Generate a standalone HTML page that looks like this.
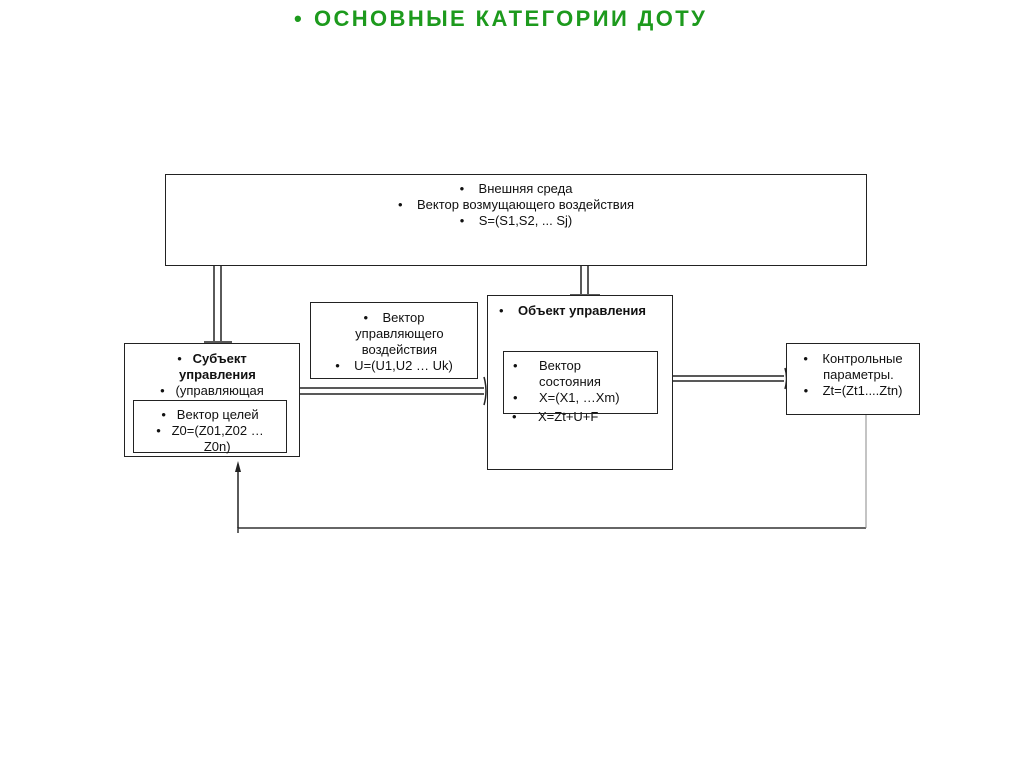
<!DOCTYPE html>
<html><head><meta charset="utf-8"><style>
body{margin:0;width:1024px;height:768px;background:#fff;position:relative;font-family:"Liberation Sans",sans-serif;color:#111;overflow:hidden}
.b{position:absolute;border:1.5px solid #222;background:#fff;box-sizing:border-box;font-size:13px;line-height:16px}
.t{position:absolute;font-size:13px;line-height:16px;white-space:nowrap}
.i{display:inline-block;width:26px}
</style></head><body>
<div class="t" style="left:294px;top:6px;font-size:22px;line-height:26px;color:#1d9a1d;font-weight:bold">•&nbsp; <span style="letter-spacing:2.4px">ОСНОВНЫЕ КАТЕГОРИИ ДОТУ</span></div>
<svg width="1024" height="768" style="position:absolute;left:0;top:0">
<g stroke="#222" stroke-width="1.5" fill="none">
<line x1="214" y1="264" x2="214" y2="341"/><line x1="221" y1="264" x2="221" y2="341"/>
<line x1="204" y1="342" x2="232" y2="342"/>
<line x1="581" y1="264" x2="581" y2="294"/><line x1="588" y1="264" x2="588" y2="294"/>
<line x1="570" y1="295" x2="600" y2="295"/>
<line x1="299" y1="388" x2="484" y2="388"/><line x1="299" y1="394" x2="484" y2="394"/>
<path d="M484 377 Q488 391 484 405"/>
<line x1="672" y1="376" x2="784" y2="376"/><line x1="672" y1="381" x2="784" y2="381"/>
<path d="M785 368 Q788 378 785 389"/>
<polyline points="238,533 238,528 866,528" stroke="#333"/>
<line x1="238" y1="528" x2="238" y2="470"/>
<line x1="866" y1="414" x2="866" y2="528" stroke="#888" stroke-width="1"/>
</g>
<path d="M238 461 L235 472 L241 472 Z" fill="#222"/>
</svg>
<div class="b" style="left:165px;top:174px;width:702px;height:92px;text-align:center;padding-top:6px">
•&nbsp;&nbsp;&nbsp; Внешняя среда<br>•&nbsp;&nbsp;&nbsp; Вектор возмущающего воздействия<br>•&nbsp;&nbsp;&nbsp; S=(S1,S2, ... Sj)</div>
<div class="b" style="left:124px;top:343px;width:176px;height:114px;text-align:center;padding-top:7px">
•&nbsp;&nbsp; <b>Субъект<br>&nbsp;&nbsp;&nbsp;управления</b><br>•&nbsp;&nbsp; (управляющая</div>
<div class="b" style="left:133px;top:400px;width:154px;height:53px;text-align:center;padding-top:6px;overflow:visible">
•&nbsp;&nbsp; Вектор целей<br>•&nbsp;&nbsp; Z0=(Z01,Z02 …<br>&nbsp;&nbsp;&nbsp;&nbsp;Z0n)</div>
<div class="b" style="left:310px;top:302px;width:168px;height:77px;text-align:center;padding-top:7px">
•&nbsp;&nbsp;&nbsp; Вектор<br>&nbsp;&nbsp;&nbsp;управляющего<br>&nbsp;&nbsp;&nbsp;воздействия<br>•&nbsp;&nbsp;&nbsp; U=(U1,U2 … Uk)</div>
<div class="b" style="left:487px;top:295px;width:186px;height:175px;padding:7px 0 0 11px">•&nbsp;&nbsp;&nbsp; <b>Объект управления</b></div>
<div class="t" style="left:512px;top:409px"><span class="i">•</span>X=Zt+U+F</div>
<div class="b" style="left:503px;top:351px;width:155px;height:63px;padding:6px 0 0 9px;background:transparent;text-align:left">
<span class="i">•</span>Вектор<br><span class="i"></span>состояния<br><span class="i">•</span>X=(X1, …Xm)</div>
<div class="b" style="left:786px;top:343px;width:134px;height:72px;text-align:center;padding-top:7px">
•&nbsp;&nbsp;&nbsp; Контрольные<br>&nbsp;&nbsp;&nbsp;параметры.<br>•&nbsp;&nbsp;&nbsp; Zt=(Zt1....Ztn)</div>
</body></html>
